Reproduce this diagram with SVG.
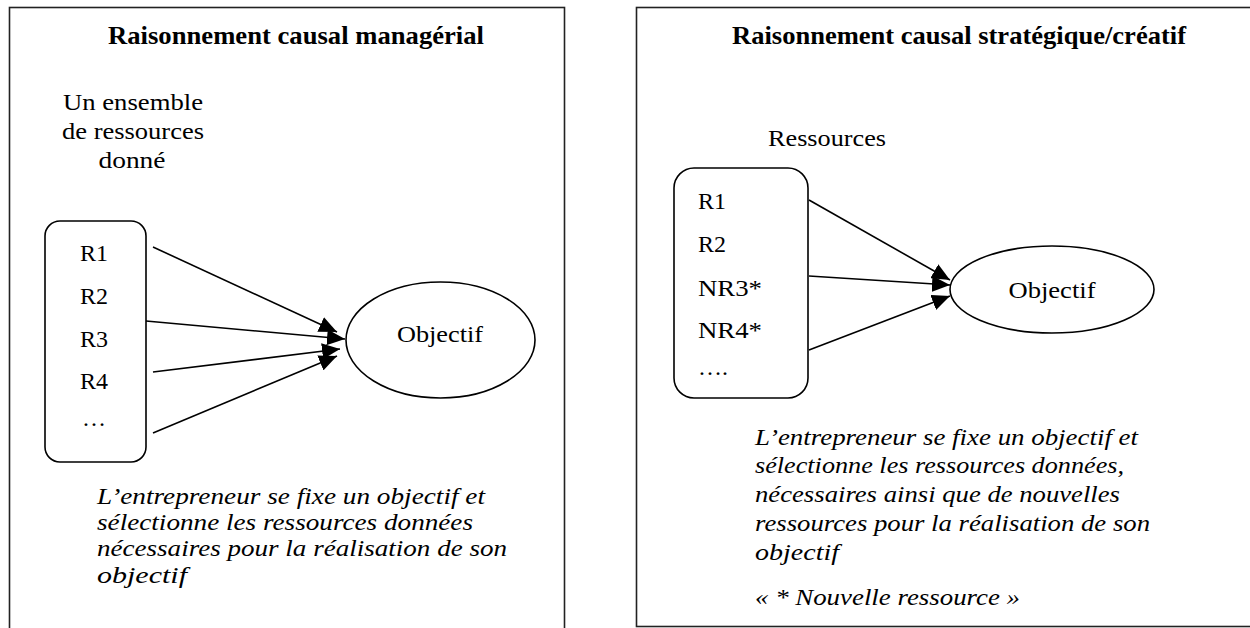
<svg xmlns="http://www.w3.org/2000/svg" width="1250" height="628" viewBox="0 0 1250 628">
<style>
  .panel { fill: #fff; stroke: #222; stroke-width: 1.6; }
  .title { font-family: "Liberation Serif", "Times New Roman", serif; font-weight: bold; font-size: 26px; fill: #000; }
  .lbl { font-family: "Liberation Serif", "Times New Roman", serif; font-size: 24px; fill: #000; }
  .it { font-family: "Liberation Serif", "Times New Roman", serif; font-style: italic; font-size: 23px; fill: #000; }
  .it2 { font-family: "Liberation Serif", "Times New Roman", serif; font-style: italic; font-size: 24px; fill: #000; }
  .box { fill: #fff; stroke: #000; stroke-width: 1.6; }
  .conn { stroke: #000; stroke-width: 1.6; fill: none; marker-end: url(#ah); }
</style>
<defs>
  <marker id="ah" markerUnits="userSpaceOnUse" markerWidth="19" markerHeight="16" refX="18" refY="8" orient="auto">
    <path d="M0,0 L18,8 L0,16 Z" fill="#000"/>
  </marker>
</defs>
<rect width="1250" height="628" fill="#fff"/>

<g id="panel-left">
  <rect class="panel" x="9.5" y="7.5" width="555" height="660"/>
  <text class="title" x="296" y="44" text-anchor="middle" textLength="376" lengthAdjust="spacingAndGlyphs">Raisonnement causal managérial</text>
</g>
<g id="label-ensemble">
  <text class="lbl" x="133" y="110" text-anchor="middle" textLength="140" lengthAdjust="spacingAndGlyphs">Un ensemble</text>
  <text class="lbl" x="133" y="139" text-anchor="middle" textLength="142" lengthAdjust="spacingAndGlyphs">de ressources</text>
  <text class="lbl" x="132" y="168" text-anchor="middle" textLength="67" lengthAdjust="spacingAndGlyphs">donné</text>
</g>
<g id="resources-left">
  <rect class="box" x="45" y="221" width="101" height="241" rx="15" ry="15"/>
  <text class="lbl" x="80" y="261">R1</text>
  <text class="lbl" x="80" y="304">R2</text>
  <text class="lbl" x="80" y="347">R3</text>
  <text class="lbl" x="80" y="389">R4</text>
  <text class="lbl" x="82" y="426">…</text>
</g>
<g id="objectif-left">
  <ellipse class="box" cx="440.5" cy="340" rx="94.5" ry="58"/>
  <text class="lbl" x="440" y="342" text-anchor="middle" textLength="86" lengthAdjust="spacingAndGlyphs">Objectif</text>
</g>
<g id="desc-left">
  <text class="it" x="97" y="504" textLength="388" lengthAdjust="spacingAndGlyphs">L’entrepreneur se fixe un objectif et</text>
  <text class="it" x="97" y="530" textLength="376" lengthAdjust="spacingAndGlyphs">sélectionne les ressources données</text>
  <text class="it" x="97" y="556" textLength="410" lengthAdjust="spacingAndGlyphs">nécessaires pour la réalisation de son</text>
  <text class="it" x="97" y="583" textLength="90" lengthAdjust="spacingAndGlyphs">objectif</text>
</g>

<g id="panel-right">
  <rect class="panel" x="636.5" y="7.5" width="660" height="619"/>
  <text class="title" x="959" y="44" text-anchor="middle" textLength="454" lengthAdjust="spacingAndGlyphs">Raisonnement causal stratégique/créatif</text>
</g>
<g id="label-ressources">
  <text class="lbl" x="768" y="146" textLength="118" lengthAdjust="spacingAndGlyphs">Ressources</text>
</g>
<g id="resources-right">
  <rect class="box" x="674" y="168" width="134" height="230" rx="20" ry="20"/>
  <text class="lbl" x="698" y="209">R1</text>
  <text class="lbl" x="698" y="252">R2</text>
  <text class="lbl" x="698" y="296" textLength="64" lengthAdjust="spacingAndGlyphs">NR3*</text>
  <text class="lbl" x="698" y="338" textLength="64" lengthAdjust="spacingAndGlyphs">NR4*</text>
  <text class="lbl" x="698" y="375">….</text>
</g>
<g id="objectif-right">
  <ellipse class="box" cx="1052" cy="289.5" rx="102" ry="43.5"/>
  <text class="lbl" x="1052" y="298" text-anchor="middle" textLength="87" lengthAdjust="spacingAndGlyphs">Objectif</text>
</g>
<g id="desc-right">
  <text class="it2" x="755" y="445" textLength="383" lengthAdjust="spacingAndGlyphs">L’entrepreneur se fixe un objectif et</text>
  <text class="it2" x="755" y="473" textLength="369" lengthAdjust="spacingAndGlyphs">sélectionne les ressources données,</text>
  <text class="it2" x="755" y="502" textLength="365" lengthAdjust="spacingAndGlyphs">nécessaires ainsi que de nouvelles</text>
  <text class="it2" x="755" y="531" textLength="395" lengthAdjust="spacingAndGlyphs">ressources pour la réalisation de son</text>
  <text class="it2" x="755" y="560" textLength="84" lengthAdjust="spacingAndGlyphs">objectif</text>
  <text class="it2" x="755" y="605" textLength="265" lengthAdjust="spacingAndGlyphs">« * Nouvelle ressource »</text>
</g>

<g id="connectors">
  <line class="conn" x1="153" y1="247" x2="337" y2="332"/>
  <line class="conn" x1="146" y1="321" x2="345" y2="339"/>
  <line class="conn" x1="153" y1="372" x2="340" y2="349"/>
  <line class="conn" x1="153" y1="433" x2="337" y2="356"/>
  <line class="conn" x1="809" y1="200" x2="950" y2="280"/>
  <line class="conn" x1="809" y1="276" x2="950" y2="285"/>
  <line class="conn" x1="809" y1="350" x2="950" y2="296"/>
</g>
</svg>
